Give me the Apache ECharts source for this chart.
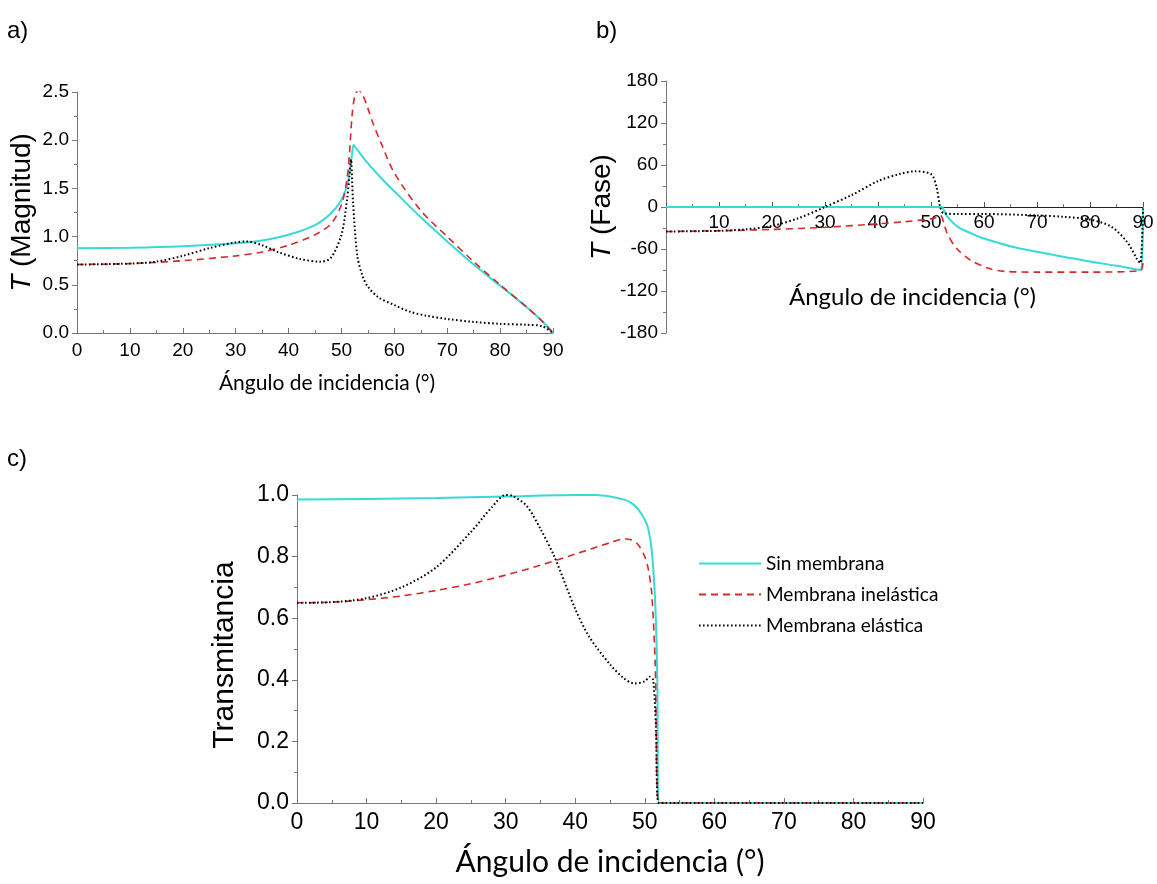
<!DOCTYPE html>
<html><head><meta charset="utf-8">
<script src="https://cdn.jsdelivr.net/npm/echarts@6/dist/echarts.min.js"></script>
<style>html,body{margin:0;padding:0;background:#fff}#c{width:1157px;height:884px}</style>
</head><body><div id="c"></div>
<script>
// ---- a) T magnitude ----
const magSinX  = [0,10,20,30,35,40,45,48,50,51,51.5,52,52.3,53,55,58,60,65,70,75,80,85,88,90];
const magSinY  = [0.88,0.885,0.9,0.93,0.96,1.02,1.12,1.24,1.38,1.52,1.65,1.85,1.95,1.9,1.76,1.58,1.47,1.2,0.95,0.71,0.49,0.27,0.12,0.0];
const magInelX = [0,10,20,30,35,40,45,48,50,51,51.5,52,52.5,53.2,54,55,56,57.5,60,65,70,75,80,85,88,90];
const magInelY = [0.71,0.72,0.75,0.8,0.84,0.91,1.02,1.13,1.33,1.58,1.85,2.25,2.45,2.52,2.47,2.33,2.17,1.97,1.66,1.27,1.0,0.74,0.5,0.27,0.12,0.0];
const magElX   = [0,10,15,20,25,30,32,35,38,42,46,48,50,51,51.5,51.8,52.2,53,54,55,57,60,63,66,70,75,80,85,88,90];
const magElY   = [0.71,0.72,0.74,0.8,0.88,0.94,0.95,0.91,0.84,0.77,0.74,0.78,1.02,1.36,1.62,1.8,1.35,0.8,0.59,0.48,0.37,0.29,0.22,0.18,0.145,0.115,0.095,0.085,0.07,0.0];
// ---- b) T phase ----
const phSinX  = [0,52,52.5,53,55,58,60,65,70,75,80,85,89.5,90];
const phSinY  = [0,0,-6,-13,-28,-39,-45,-56,-64,-71,-78,-84,-90,-2];
const phInelX = [0,10,20,30,40,45,50,51,51.8,52.5,53,54.8,57.5,61,64,70,80,89.5,90];
const phInelY = [-35,-34,-32,-29,-24,-21,-17,-15,-12,-25,-37,-59,-76,-88,-92,-93,-93,-91,-80];
const phElX   = [0,10,15,20,25,30,35,40,44,47,50,51,51.7,52.4,55,60,70,75,80,84,87,89,89.5,90];
const phElY   = [-35,-34,-32,-27,-16,0,17,37,47,51,47,30,1,-9,-10,-10,-12,-14,-18,-28,-50,-76,-80,-2];
// ---- c) Transmitancia ----
const trSinX  = [0,10,20,30,40,43,45,47,48,49,50,50.5,51,51.5,51.8,52,53,60,70,80,90];
const trSinY  = [0.985,0.987,0.99,0.995,1.0,1.0,0.995,0.985,0.975,0.955,0.92,0.89,0.82,0.65,0.4,0.0,0,0,0,0,0];
const trInelX = [0,5,10,15,20,25,30,35,40,45,47,48,49,50,50.5,51,51.5,52,53,60,70,80,90];
const trInelY = [0.65,0.652,0.66,0.672,0.69,0.712,0.74,0.772,0.808,0.845,0.857,0.855,0.84,0.8,0.76,0.68,0.45,0.0,0,0,0,0,0];
const trElX   = [0,5,10,15,20,25,28,30,31,33,35,37,40,42,45,47,48.5,50,50.7,51.2,51.6,52,53,60,70,80,90];
const trElY   = [0.65,0.652,0.665,0.7,0.765,0.88,0.96,1.0,0.997,0.965,0.89,0.8,0.63,0.54,0.45,0.405,0.388,0.395,0.41,0.4,0.25,0.0,0,0,0,0,0];

const names = ['Sin membrana','Membrana inelástica','Membrana elástica'];
const AX = 'Liberation Sans', CAL = 'Lato';
const styles = [
  {color:'#38d9d9', width:2, type:'solid'},
  {color:'#d42a2a', width:1.6, type:[7,5]},
  {color:'#000000', width:2, type:[1.6,2.4]}
];
const zip = (xs, ys) => xs.map((x,i)=>[x, ys[i]]);

function mkSeries(idx, xs, ys, k){
  return {type:'line', name:names[k], xAxisIndex:idx, yAxisIndex:idx, data:zip(xs,ys),
    symbol:'none', smooth:0.3, lineStyle:styles[k], itemStyle:{color:styles[k].color},
    z: 2+k, animation:false};
}

function xAx(idx, opt){
  return Object.assign({gridIndex:idx, type:'value', min:0, max:90, interval:10,
    axisLine:{lineStyle:{color:'#777', width:1}},
    axisTick:{inside:true, length:5, lineStyle:{color:'#777'}},
    minorTick:{show:true, splitNumber:2, length:3, lineStyle:{color:'#777'}},
    splitLine:{show:false},
    axisLabel:{color:'#000', fontSize:19, fontFamily:AX, margin:8},
    nameLocation:'middle'}, opt);
}
function yAx(idx, opt){
  return Object.assign({gridIndex:idx, type:'value',
    axisLine:{show:true, lineStyle:{color:'#777', width:1}},
    axisTick:{show:true, inside:false, length:5, lineStyle:{color:'#777'}},
    minorTick:{show:true, splitNumber:2, length:3, lineStyle:{color:'#777'}},
    splitLine:{show:false},
    axisLabel:{color:'#000', fontSize:19, fontFamily:AX, margin:8},
    nameLocation:'middle', nameRotate:90}, opt);
}
const richT = (fs, pad) => ({color:'#000', fontFamily:AX, fontSize:fs, padding:pad,
  rich:{i:{fontStyle:'italic', fontFamily:AX, fontSize:fs, color:'#000'}}});

const chart = echarts.init(document.getElementById('c'), null, {renderer:'canvas'});
chart.setOption({
  animation:false,
  backgroundColor:'#fff',
  title:[
    {text:'a)', left:7, top:19, padding:0, textStyle:{fontSize:24, fontWeight:'normal', fontFamily:AX, color:'#000'}},
    {text:'b)', left:596, top:19, padding:0, textStyle:{fontSize:24, fontWeight:'normal', fontFamily:AX, color:'#000'}},
    {text:'c)', left:7, top:447, padding:0, textStyle:{fontSize:24, fontWeight:'normal', fontFamily:AX, color:'#000'}}
  ],
  legend:{data:names, orient:'vertical', left:693, top:549, itemWidth:62, itemHeight:14, itemGap:12,
    itemStyle:{opacity:0},
    textStyle:{fontSize:19, fontFamily:CAL, color:'#000'}, selectedMode:false},
  grid:[
    {left:77, top:92, width:476, height:241},
    {left:666, top:81, width:477, height:252},
    {left:297, top:495, width:626, height:308}
  ],
  xAxis:[
    xAx(0, {name:'Ángulo de incidencia (°)', nameGap:40,
      nameTextStyle:{color:'#000', fontFamily:CAL, fontSize:21, padding:[0,0,0,24]}}),
    xAx(1, {name:'Ángulo de incidencia (°)', nameGap:78, offset:-126,
      axisLine:{onZero:false, lineStyle:{color:'#222', width:1}},
      axisTick:{inside:true, length:5, lineStyle:{color:'#555'}},
      axisLabel:{color:'#000', fontSize:19, fontFamily:AX, margin:6, formatter:v=> v===0?'':String(v)},
      nameTextStyle:{color:'#000', fontFamily:CAL, fontSize:24, padding:[0,0,0,16]}}),
    xAx(2, {name:'Ángulo de incidencia (°)', nameGap:44,
      axisLabel:{color:'#000', fontSize:23, fontFamily:AX, margin:8},
      nameTextStyle:{color:'#000', fontFamily:CAL, fontSize:30}})
  ],
  yAxis:[
    yAx(0, {min:0, max:2.5, interval:0.5, name:'{i|T} (Magnitud)', nameGap:41,
      axisLabel:{color:'#000', fontSize:19, fontFamily:AX, margin:8, formatter:v=>v.toFixed(1)},
      nameTextStyle:richT(28, 0)}),
    yAx(1, {min:-180, max:180, interval:60, name:'{i|T} (Fase)', nameGap:40,
      nameTextStyle:richT(28, 0)}),
    yAx(2, {min:0, max:1, interval:0.2, name:'Transmitancia', nameGap:57,
      axisLabel:{color:'#000', fontSize:23, fontFamily:AX, margin:8, formatter:v=>v.toFixed(1)},
      nameTextStyle:{color:'#000', fontFamily:AX, fontSize:30, padding:[0,12,0,0]}})
  ],
  series:[
    mkSeries(0, magSinX, magSinY, 0),
    mkSeries(0, magInelX, magInelY, 1),
    mkSeries(0, magElX, magElY, 2),
    mkSeries(1, phSinX, phSinY, 0),
    mkSeries(1, phInelX, phInelY, 1),
    mkSeries(1, phElX, phElY, 2),
    mkSeries(2, trSinX, trSinY, 0),
    mkSeries(2, trInelX, trInelY, 1),
    mkSeries(2, trElX, trElY, 2)
  ]
});
</script></body></html>
